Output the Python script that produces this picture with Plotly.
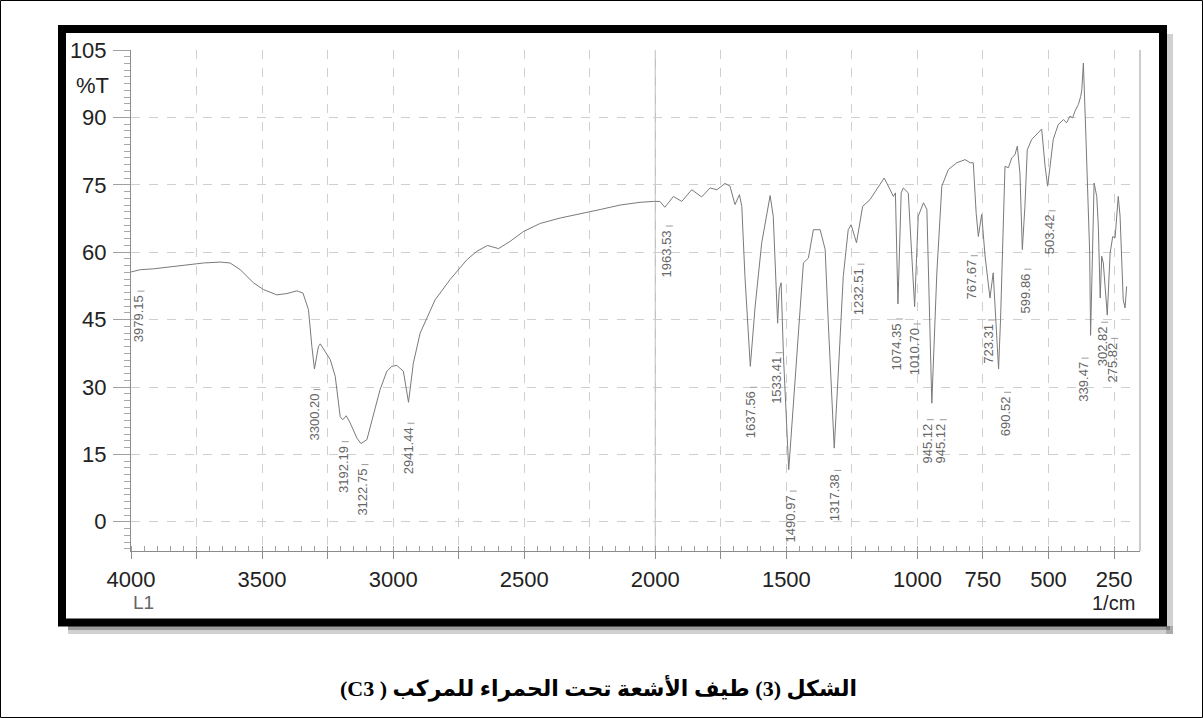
import plotly.graph_objects as go

# ---- IR spectrum of compound C3 (wavenumber in 1/cm, transmittance in %T) ----
wavenumber = [
    4000, 3979.15, 3965, 3914, 3850, 3787, 3723, 3660, 3622, 3583, 3533, 3495,
    3444, 3405, 3367, 3344, 3323, 3310, 3300.20, 3285, 3278, 3240, 3221, 3202,
    3192.19, 3179, 3164, 3138, 3122.75, 3100, 3075, 3050, 3024, 3005, 2986, 2961,
    2941.44, 2923, 2897, 2840, 2783, 2719, 2681, 2640, 2598, 2554, 2503, 2439,
    2363, 2287, 2210, 2134, 2058, 2007, 1982, 1963.53, 1931, 1899, 1861, 1823,
    1791, 1765, 1734, 1715, 1696, 1679, 1670, 1658, 1637.56, 1619, 1594, 1562,
    1550, 1533.41, 1527, 1520, 1511, 1490.97, 1473, 1454, 1435, 1416, 1397, 1371,
    1352, 1340, 1317.38, 1302, 1283, 1264, 1253, 1232.51, 1209, 1181, 1149, 1127,
    1104, 1092, 1084, 1074.35, 1062, 1054, 1035, 1010.70, 997, 977, 964, 945.12,
    926, 907, 882, 850, 818, 799, 787, 776, 767.67, 755, 742, 723.31,
    711, 690.52, 683, 675, 666, 653, 640, 628, 619, 609, 599.86, 590,
    581, 564, 545, 526, 513, 503.42, 494, 482, 463, 443, 431, 418,
    408, 399, 386, 377, 373, 367, 357, 343, 339.47, 331, 326, 316,
    310, 302.82, 297, 291, 281, 275.82, 265, 255, 246, 234, 227, 221,
    215, 208, 202,
]
transmittance = [
    55.6, 55.8, 56.1, 56.3, 56.7, 57.2, 57.6, 57.8, 57.6, 56.1, 53.2, 51.7,
    50.5, 50.8, 51.4, 50.9, 47.2, 39.0, 34.0, 39.0, 39.6, 36.1, 32.4, 23.4,
    22.7, 23.6, 22.0, 18.6, 17.4, 18.3, 24.2, 29.4, 33.5, 34.6, 34.8, 33.5,
    26.6, 35.3, 42.0, 49.4, 53.9, 58.3, 60.2, 61.5, 60.8, 62.4, 64.6, 66.4,
    67.6, 68.5, 69.5, 70.5, 71.1, 71.3, 71.3, 70.0, 72.4, 71.3, 73.9, 72.3,
    74.3, 73.9, 75.3, 74.7, 70.6, 72.8, 70.2, 54.6, 34.6, 48.0, 62.1, 72.6,
    68.0, 44.2, 51.7, 53.2, 36.8, 11.6, 25.7, 42.0, 57.6, 58.7, 65.0, 65.0,
    60.6, 44.2, 16.4, 33.1, 54.6, 65.0, 66.1, 62.1, 70.2, 71.7, 74.7, 76.5,
    73.9, 72.4, 73.2, 48.5, 73.2, 74.3, 73.2, 47.9, 68.0, 71.0, 69.5, 26.4,
    55.4, 74.7, 78.4, 79.9, 80.6, 79.9, 79.9, 68.7, 63.5, 68.4, 59.1, 49.8,
    55.4, 34.0, 45.0, 62.8, 79.1, 78.8, 81.0, 81.7, 83.6, 77.6, 60.6, 70.2,
    82.8, 85.1, 86.2, 87.4, 79.1, 74.7, 79.1, 85.1, 88.4, 89.5, 88.8, 90.3,
    89.9, 91.4, 92.9, 94.7, 96.2, 102.1, 85.1, 60.0, 41.5, 66.0, 75.4, 72.4,
    65.8, 49.8, 59.1, 57.6, 48.7, 46.0, 59.8, 63.5, 63.2, 72.4, 68.0, 59.8,
    49.4, 47.6, 52.4,
]

# Peak annotations (text is the peak position)
peak_labels = [
    "3979.15", "3300.20", "3192.19", "3122.75", "2941.44", "1963.53",
    "1637.56", "1533.41", "1490.97", "1317.38", "1232.51", "1074.35",
    "1010.70", "945.12", "945.12", "767.67", "723.31", "690.52",
    "599.86", "503.42", "339.47", "302.82", "275.82",
]
# placement of each rotated label: %T of its centre and a sideways nudge in px
label_mid = [45.2, 23.3, 11.7, 6.6, 15.8, 59.7, 23.8, 31.5, 0.7, 5.3, 51.2, 39.0,
             37.9, 17.4, 17.4, 53.9, 39.6, 23.5, 50.9, 63.9, 31.1, 39.1, 35.5]
label_dx = [2, 0, 0, 1.5, 0, 2, 1, -1, 2, 1, 2, -1,
            0, -4, 9, -6.5, -1, 6.5, 3, 2, -8, 2, 5]

x_tick_labels = ["4000", "3500", "3000", "2500", "2000", "1500", "1000", "750", "500", "250"]
y_tick_labels = ["0", "15", "30", "45", "60", "75", "90", "105"]

# ---- page geometry ----
W, H = 1203, 718
L, R, T, B = 131, 63, 50, 167
PW, PH = W - L - R, H - T - B
X_RANGE = [4000, 151]
Y_RANGE = [-6.5, 105]
WN_PER_PX = (X_RANGE[0] - X_RANGE[1]) / PW
T_PER_PX = (Y_RANGE[1] - Y_RANGE[0]) / PH


def fx(px):
    return (px - L) / PW


def fy(py):
    return (H - B - py) / PH


grid_vals = list(range(4000, 0, -250))

fig = go.Figure()

fig.add_trace(go.Scatter(
    x=wavenumber, y=transmittance, mode="lines",
    line=dict(color="#7a7a7a", width=1), hoverinfo="skip", showlegend=False,
))

# short ticks at the top end of every peak label
dash_x, dash_y = [], []
for lbl, mid, dx in zip(peak_labels, label_mid, label_dx):
    xc = float(lbl) - dx * WN_PER_PX
    top = mid + (len(lbl) * 7.3 / 2 + 2) * T_PER_PX
    dash_x += [xc + 1 * WN_PER_PX, xc - 6 * WN_PER_PX, None]
    dash_y += [top, top, None]
fig.add_trace(go.Scatter(
    x=dash_x, y=dash_y, mode="lines", line=dict(color="#9a9a9a", width=1),
    hoverinfo="skip", showlegend=False,
))

annotations = []
for lbl, mid, dx in zip(peak_labels, label_mid, label_dx):
    annotations.append(dict(
        x=float(lbl), y=mid, xref="x", yref="y", text=lbl, textangle=-90,
        showarrow=False, xshift=dx, xanchor="center", yanchor="middle",
        font=dict(family="Liberation Sans, Arial, sans-serif", size=13, color="#666666"),
    ))

axis_font = dict(family="Liberation Sans, Arial, sans-serif", size=22, color="#222222")
annotations += [
    dict(x=fx(111), y=97, xref="paper", yref="y", text="%T", showarrow=False,
         xanchor="right", yanchor="middle", font=axis_font),
    dict(x=fx(143), y=fy(602), xref="paper", yref="paper", text="L1", showarrow=False,
         xanchor="center", yanchor="middle",
         font=dict(family="Liberation Sans, Arial, sans-serif", size=19, color="#666666")),
    dict(x=fx(1137), y=fy(603), xref="paper", yref="paper", text="1/cm", showarrow=False,
         xanchor="right", yanchor="middle",
         font=dict(family="Liberation Sans, Arial, sans-serif", size=20, color="#222222")),
    dict(x=fx(598), y=fy(688), xref="paper", yref="paper",
         text="\u202bالشكل (3) طيف الأشعة تحت الحمراء للمركب ( C3)\u202c",
         showarrow=False, xanchor="center", yanchor="middle",
         font=dict(family="Liberation Serif, DejaVu Sans, serif", size=22,
                   color="#000000", weight="bold")),
]

shapes = [
    # soft shadow under/right of the framed chart
    dict(type="rect", xref="paper", yref="paper", x0=fx(68), x1=fx(1173), y0=fy(626), y1=fy(634),
         line=dict(width=0), fillcolor="rgba(0,0,0,0.18)", layer="below"),
    dict(type="rect", xref="paper", yref="paper", x0=fx(1166), x1=fx(1173), y0=fy(34), y1=fy(634),
         line=dict(width=0), fillcolor="rgba(0,0,0,0.18)", layer="below"),
    dict(type="rect", xref="paper", yref="paper", x0=fx(68), x1=fx(1170), y0=fy(626), y1=fy(630),
         line=dict(width=0), fillcolor="rgba(0,0,0,0.25)", layer="below"),
    # thick black frame
    dict(type="rect", xref="paper", yref="paper", x0=fx(62), x1=fx(1163), y0=fy(29), y1=fy(622.5),
         line=dict(color="#000000", width=8), fillcolor="rgba(0,0,0,0)"),
    # thin page border
    dict(type="rect", xref="paper", yref="paper", x0=fx(0.5), x1=fx(1202.5), y0=fy(0.5), y1=fy(717.5),
         line=dict(color="#000000", width=1), fillcolor="rgba(0,0,0,0)"),
    # right edge of plotting area
    dict(type="line", xref="paper", yref="paper", x0=1, x1=1, y0=0, y1=1,
         line=dict(color="#9a9a9a", width=1), layer="below"),
    # solid rule at 2000 1/cm
    dict(type="line", xref="x", yref="paper", x0=2000, x1=2000, y0=0, y1=1,
         line=dict(color="#b0b0b0", width=1), layer="below"),
]

fig.update_layout(
    width=W, height=H,
    margin=dict(l=L, r=R, t=T, b=B),
    paper_bgcolor="white", plot_bgcolor="white",
    showlegend=False,
    annotations=annotations,
    shapes=shapes,
    xaxis=dict(
        range=X_RANGE, tickmode="array", tickvals=grid_vals,
        ticktext=[str(v) if str(v) in x_tick_labels else "" for v in grid_vals],
        showgrid=True, gridcolor="#cfcfcf", griddash="dash", gridwidth=1,
        showline=True, linecolor="#8c8c8c", linewidth=1,
        ticks="outside", ticklen=7, tickcolor="#8c8c8c", ticklabelstandoff=2,
        minor=dict(tickmode="linear", tick0=0, dtick=50, ticks="inside", ticklen=5,
                   tickcolor="#a0a0a0", showgrid=False),
        tickfont=axis_font, zeroline=False, fixedrange=True,
    ),
    yaxis=dict(
        range=Y_RANGE, tickmode="array", tickvals=[float(v) for v in y_tick_labels],
        ticktext=y_tick_labels,
        showgrid=True, gridcolor="#cfcfcf", griddash="dash", gridwidth=1,
        showline=True, linecolor="#8c8c8c", linewidth=1,
        ticks="outside", ticklen=17, tickcolor="#a0a0a0", ticklabelstandoff=2,
        minor=dict(tickmode="linear", tick0=0, dtick=1.5, ticks="outside", ticklen=6,
                   tickcolor="#a8a8a8", showgrid=False),
        tickfont=axis_font, zeroline=False, fixedrange=True,
    ),
)

fig.write_html("out.html")
